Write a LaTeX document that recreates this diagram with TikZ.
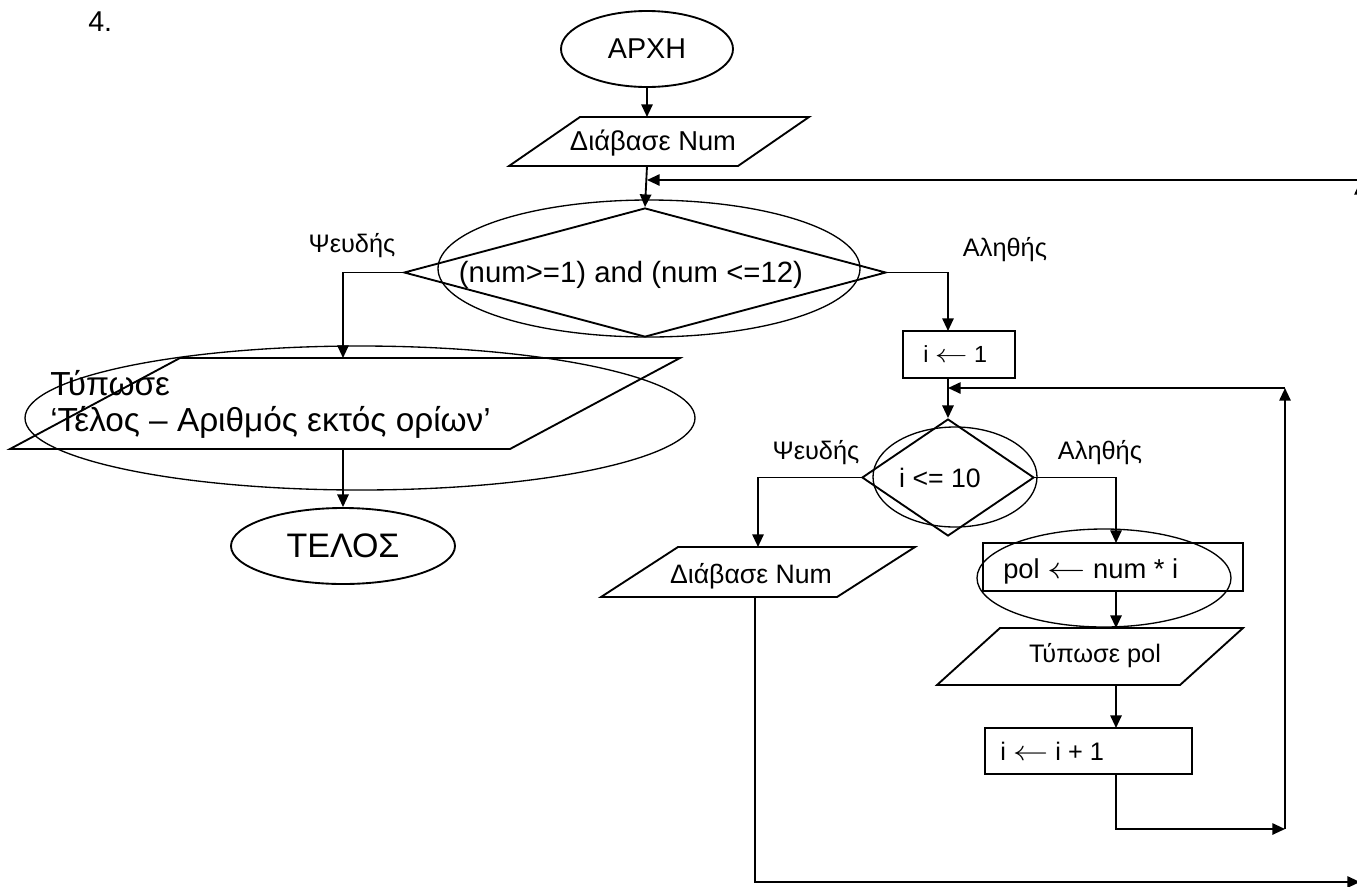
\RequirePackage{fix-cm}
\documentclass[tikz,border=0pt]{standalone}
\usepackage{fontspec}
\usepackage{graphicx}
\setmainfont{Liberation Sans}
\usetikzlibrary{arrows.meta,shapes.geometric}
\newcommand{\larr}{\scalebox{1.4}[1.1]{$\leftarrow$}}
\begin{document}
\begin{tikzpicture}[x=0.75pt,y=-0.75pt,
  outline/.style={line width=1.4pt,line join=miter},
  ringmark/.style={draw,ellipse,line width=1pt,inner sep=0pt},
  conn/.style={line width=1.4pt,-{Triangle[length=9.5pt,width=8.5pt]}},
  term/.style={draw,ellipse,line width=1.4pt,inner sep=0pt},
  boxnode/.style={draw,rectangle,line width=1.4pt,inner sep=0pt},
  dia/.style={draw,diamond,line width=1.4pt,inner sep=0pt},
  txt/.style={inner sep=0pt,font=\fontsize{20}{24}\selectfont},
  lbl/.style={inner sep=0pt,font=\fontsize{19}{23}\selectfont}]
\useasboundingbox (0,0) rectangle (1357,886);

\node[txt,anchor=west,font=\fontsize{21.5}{26}\selectfont] (num4) at (88,22) {4.};

% start
\node[term,minimum width=129pt,minimum height=57pt,font=\fontsize{21.5}{26}\selectfont] (start) at (647,49) {ΑΡΧΗ};

% read 1
\draw[outline] (509,166) -- (738,166) -- (809,117) -- (580,117) -- cycle;
\node[txt,font=\fontsize{20.5}{24}\selectfont] (p1) at (653,143) {Διάβασε Num};
\coordinate (p1n) at (647,117);
\coordinate (p1s) at (647,166);
\draw[conn] (start.south) -- (p1n);

% decision 1
\node[dia,minimum width=361.5pt,minimum height=96.75pt] (d1) at (645,272.5) {};
\node[ringmark,minimum width=316.5pt,minimum height=102.75pt] (e1) at (649,268.5) {};
\node[txt,font=\fontsize{22}{26}\selectfont] (t1) at (631,275) {(num>=1) and (num <=12)};
\draw[conn] (p1s) -- (d1.north);
\coordinate (rjoin) at (647,180);
\coordinate (rin) at (1360,180);
\draw[conn] (rin) -- (rjoin);
\node[lbl] (f1) at (352,246) {Ψευδής};
\node[lbl] (tr1) at (1005,250) {Αληθής};

% false branch 1
\coordinate (p2n) at (343,358);
\draw[conn] (d1.west) -| (p2n);
\draw[outline] (10,449) -- (510,449) -- (680,358) -- (180,358) -- cycle;
\node[inner sep=0pt,anchor=base west,font=\fontsize{25}{30}\selectfont] (p2a) at (50,395) {Τύπωσε};
\node[inner sep=0pt,anchor=base west,font=\fontsize{25}{30}\selectfont] (p2b) at (50,431) {‘Τέλος – Αριθμός εκτός ορίων’};
\node[ringmark,minimum width=502.5pt,minimum height=108pt] (e2) at (360,418) {};
\coordinate (p2s) at (343,449);
\node[term,minimum width=168pt,minimum height=57pt,font=\fontsize{25.5}{30}\selectfont] (stop) at (343,546) {ΤΕΛΟΣ};
\draw[conn] (p2s) -- (stop.north);

% true branch 1
\node[boxnode,minimum width=84pt,minimum height=35.25pt] (b1) at (959,354.5) {};
\node[inner sep=0pt,anchor=west,font=\fontsize{17.5}{21}\selectfont] (b1t) at (923,354.5) {i \larr\ 1};
\coordinate (b1n) at (948,331);
\coordinate (b1s) at (948,378);
\draw[conn] (d1.east) -| (b1n);

% decision 2
\node[dia,minimum width=129pt,minimum height=87.75pt] (d2) at (948,477.5) {};
\node[ringmark,minimum width=123pt,minimum height=75pt] (e3) at (955,477) {};
\node[txt] (t2) at (940,478) {i <= 10};
\draw[conn] (b1s) -- (d2.north);
\node[lbl] (f2) at (816,453) {Ψευδής};
\node[lbl] (tr2) at (1100,453) {Αληθής};

% loop back
\coordinate (lpc) at (1285,388);
\coordinate (lpj) at (948,388);
\coordinate (lpb) at (1285,829);
\draw[conn] (lpc) -- (lpj);
\draw[conn] (lpb) -- (lpc);

% false branch 2
\coordinate (p3n) at (758,547);
\draw[conn] (d2.west) -| (p3n);
\draw[outline] (601,597) -- (837,597) -- (915,547) -- (678,547) -- cycle;
\node[txt] (p3) at (751,576) {Διάβασε Num};
\coordinate (p3s) at (755,597);
\coordinate (rb) at (1360,882);
\coordinate (rc) at (1360,182);
\draw[conn] (p3s) |- (rb);
\draw[conn] (rb) -- (rc);

% true branch 2
\node[boxnode,minimum width=195pt,minimum height=36pt] (b2) at (1113,567) {};
\node[ringmark,minimum width=190.5pt,minimum height=73.5pt] (e4) at (1104,578) {};
\node[inner sep=0pt,anchor=base west,font=\fontsize{20.5}{24}\selectfont] (b2t) at (1003,578) {pol \larr\ num * i};
\coordinate (b2n) at (1116,543);
\draw[conn] (d2.east) -| (b2n);
\coordinate (b2s) at (1116,591);
\coordinate (p4n) at (1116,628);
\draw[conn] (b2s) -- (p4n);
\draw[outline] (937,685) -- (1180,685) -- (1243,628) -- (1000,628) -- cycle;
\node[lbl] (p4) at (1095,656) {Τύπωσε pol};
\coordinate (p4s) at (1116,685);
\coordinate (b3n) at (1116,728);
\draw[conn] (p4s) -- (b3n);
\node[boxnode,minimum width=155.25pt,minimum height=34.5pt] (b3) at (1088.5,751) {};
\node[inner sep=0pt,anchor=west,font=\fontsize{19}{23}\selectfont] (b3t) at (1000,751) {i \larr\ i + 1};
\coordinate (b3s) at (1116,774);
\draw[conn] (b3s) |- (lpb);
\end{tikzpicture}
\end{document}
